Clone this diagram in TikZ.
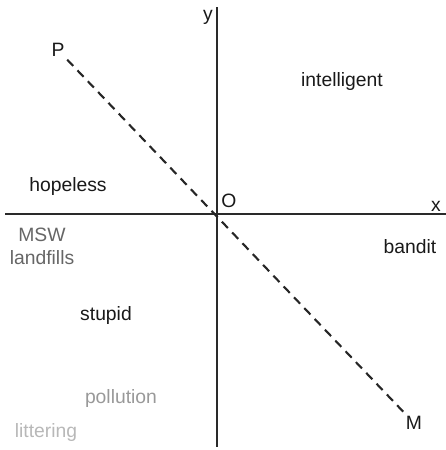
\documentclass[tikz,border=0pt]{standalone}
\usepackage{fontspec}
\setmainfont{Liberation Sans}
\usetikzlibrary{positioning}

\definecolor{axisgray}{HTML}{2A2A2A}
\definecolor{midgray}{HTML}{666666}
\definecolor{lightgray}{HTML}{999999}
\definecolor{palegray}{HTML}{B8B8B8}

\begin{document}
\begin{tikzpicture}[
  x=0.02cm, y=-0.02cm,
  font=\fontsize{11}{13}\selectfont,
  axis/.style={draw=axisgray, line width=1.3pt},
  dashline/.style={draw=black!85, line width=1.2pt, dash pattern=on 5pt off 3.5pt},
  lbl/.style={inner sep=0pt, text=black!90},
  faint/.style={inner sep=0pt, align=center}
]
\useasboundingbox (0,0) rectangle (446,450);

% axes
\coordinate (xl) at (5,214);
\coordinate (xr) at (446,214);
\coordinate (yt) at (217,7);
\coordinate (yb) at (217,447);
\draw[axis] (xl) -- (xr);
\draw[axis] (yt) -- (yb);

% axis labels
\node[lbl] (ylab) at (208,17) {y};
\node[lbl] (xlab) at (436,206) {x};
\node[lbl] (O) at (229,201) {O};

% the diagonal
\node[lbl, inner sep=1.5pt] (P) at (58,50) {P};
\node[lbl, inner sep=1.5pt] (M) at (414,423) {M};
\draw[dashline] (P) -- (M);

% regions
\node[lbl] (intelligent) at (342,82) {intelligent};
\node[lbl] (hopeless) at (68,186) {hopeless};
\node[lbl] (bandit) at (410,247) {bandit};
\node[lbl] (stupid) at (106,315) {stupid};
\node[faint, text=midgray] (msw) at (42,246) {MSW\\landfills};
\node[faint, text=lightgray] (pollution) at (121,398) {pollution};
\node[faint, text=palegray] (littering) at (46,432) {littering};

\end{tikzpicture}
\end{document}
